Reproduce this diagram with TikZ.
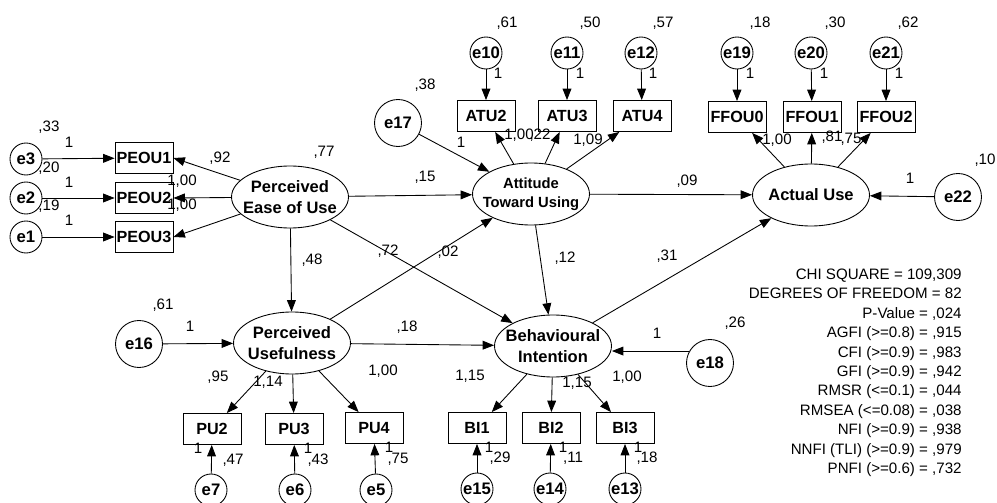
\documentclass[tikz,border=0pt]{standalone}
\usepackage{fontspec}
\setmainfont{Liberation Sans}
\usetikzlibrary{arrows.meta,shapes.geometric}

\tikzset{
	obs/.style={draw,line width=0.5pt,minimum width=1.16cm,minimum height=0.62cm,inner sep=0pt,font=\fontsize{9.2}{11}\selectfont\bfseries},
	lat/.style={draw,ellipse,line width=0.5pt,minimum width=2.34cm,minimum height=1.24cm,inner xsep=-10pt,inner ysep=-2pt,align=center,font=\fontsize{9.4}{12}\selectfont\bfseries},
	err/.style={draw,circle,line width=0.5pt,minimum size=0.64cm,inner sep=0pt,font=\fontsize{9.5}{11}\selectfont\bfseries},
	errbig/.style={err,minimum size=0.94cm},
	num/.style={inner sep=0pt,font=\fontsize{8.6}{10}\selectfont},
	arr/.style={-{Triangle[length=6.5pt,width=5pt]},line width=0.5pt}
}

\begin{document}
\begin{tikzpicture}[x=0.02cm,y=-0.02cm]
				\useasboundingbox (0,0) rectangle (997,503);

				% Latent variables
				\node[lat] (peou) at (290,197) {Perceived\\Ease of Use};
				\node[lat,font=\fontsize{8.4}{10.8}\selectfont\bfseries] (atu) at (531,194) {Attitude\\Toward Using};
				\node[lat] (au) at (811,195) {Actual Use};
				\node[lat] (pu) at (292,343) {Perceived\\Usefulness};
				\node[lat] (bi) at (553,346) {Behavioural\\Intention};

				% Indicators
				\node[obs] (peou1) at (144,158) {PEOU1};
				\node[obs] (peou2) at (144,198) {PEOU2};
				\node[obs] (peou3) at (144,237) {PEOU3};
				\node[obs] (atu2) at (486,116) {ATU2};
				\node[obs] (atu3) at (567,116) {ATU3};
				\node[obs] (atu4) at (642,116) {ATU4};
				\node[obs] (ffou0) at (737,117) {FFOU0};
				\node[obs] (ffou1) at (812,117) {FFOU1};
				\node[obs] (ffou2) at (886,117) {FFOU2};
				\node[obs] (pu2) at (212,429) {PU2};
				\node[obs] (pu3) at (294,429) {PU3};
				\node[obs] (pu4) at (374,428) {PU4};
				\node[obs] (bi1) at (477,428) {BI1};
				\node[obs] (bi2) at (551,428) {BI2};
				\node[obs] (bi3) at (625,428) {BI3};

				% Error terms
				\node[err] (e3) at (26,159) {e3};
				\node[err] (e2) at (26,198) {e2};
				\node[err] (e1) at (26,237) {e1};
				\node[err] (e10) at (486,53) {e10};
				\node[err] (e11) at (567,53) {e11};
				\node[err] (e12) at (641,53) {e12};
				\node[err] (e19) at (737,53) {e19};
				\node[err] (e20) at (811,53) {e20};
				\node[err] (e21) at (886,53) {e21};
				\node[err] (e7) at (211,490) {e7};
				\node[err] (e6) at (295,490) {e6};
				\node[err] (e5) at (376,490) {e5};
				\node[err] (e15) at (477,489) {e15};
				\node[err] (e14) at (550,489) {e14};
				\node[err] (e13) at (625,489) {e13};
				\node[errbig] (e17) at (398,123) {e17};
				\node[errbig] (e22) at (958,197) {e22};
				\node[errbig] (e16) at (139,344) {e16};
				\node[errbig] (e18) at (710,363) {e18};

				% Measurement paths
				\draw[arr] (e3) -- (peou1);
				\draw[arr] (e2) -- (peou2);
				\draw[arr] (e1) -- (peou3);
				\draw[arr] (peou) -- (peou1.east);
				\draw[arr] (peou) -- (peou2.east);
				\draw[arr] (peou) -- (peou3.east);
				\draw[arr] (e10) -- (atu2);
				\draw[arr] (e11) -- (atu3);
				\draw[arr] (e12) -- (atu4);
				\draw[arr] (atu) -- (atu2);
				\draw[arr] (atu) -- (atu3);
				\draw[arr] (atu) -- (atu4);
				\draw[arr] (e19) -- (ffou0);
				\draw[arr] (e20) -- (ffou1);
				\draw[arr] (e21) -- (ffou2);
				\draw[arr] (au) -- (ffou0);
				\draw[arr] (au) -- (ffou1);
				\draw[arr] (au) -- (ffou2);
				\draw[arr] (pu) -- (pu2);
				\draw[arr] (pu) -- (pu3);
				\draw[arr] (pu) -- (pu4);
				\draw[arr] (e7) -- (pu2);
				\draw[arr] (e6) -- (pu3);
				\draw[arr] (e5) -- (pu4);
				\draw[arr] (bi) -- (bi1);
				\draw[arr] (bi) -- (bi2);
				\draw[arr] (bi) -- (bi3);
				\draw[arr] (e15) -- (bi1);
				\draw[arr] (e14) -- (bi2);
				\draw[arr] (e13) -- (bi3);

				% Structural paths
				\draw[arr] (peou) -- (atu);
				\draw[arr] (peou) -- (pu);
				\draw[arr] (peou) -- (bi);
				\draw[arr] (pu) -- (atu);
				\draw[arr] (pu) -- (bi);
				\draw[arr] (atu) -- (bi);
				\draw[arr] (atu) -- (au);
				\draw[arr] (bi) -- (au);
				\draw[arr] (e17) -- (atu);
				\draw[arr] (e16) -- (pu);
				\draw[arr] (e22) -- (au);
				\draw[arr] (e18.150) -- (e18.150 -| bi.east);

				% Estimates, left
				\node[num] (ve3) at (49,127) {,33};
				\node[num] (we3) at (69,142) {1};
				\node[num] (ve2) at (49,168) {,20};
				\node[num] (we2) at (69,182) {1};
				\node[num] (ve1) at (49,206) {,19};
				\node[num] (we1) at (69,220) {1};
				\node[num] (wpeou1) at (220,158) {,92};
				\node[num] (vpeou) at (324,152) {,77};
				\node[num] (wpeou2) at (182,181) {1,00};
				\node[num] (wpeou3) at (182,205) {1,00};

				% Estimates, top
				\node[num] (ve17) at (425,85) {,38};
				\node[num] (we17) at (461,142) {1};
				\node[num] (watu2) at (519,135) {1,00};
				\node[num] (vatu) at (540,135) {,22};
				\node[num] (watu4) at (588,140) {1,09};
				\node[num] (ve10) at (507,23) {,61};
				\node[num] (we10) at (498,73) {1};
				\node[num] (ve11) at (590,23) {,50};
				\node[num] (we11) at (580,73) {1};
				\node[num] (ve12) at (663,23) {,57};
				\node[num] (we12) at (653,73) {1};
				\node[num] (ve19) at (760,23) {,18};
				\node[num] (we19) at (750,73) {1};
				\node[num] (ve20) at (835,23) {,30};
				\node[num] (we20) at (824,73) {1};
				\node[num] (ve21) at (908,23) {,62};
				\node[num] (we21) at (899,73) {1};
				\node[num] (wffou0) at (777,140) {1,00};
				\node[num] (wffou1) at (832,137) {,81};
				\node[num] (wffou2) at (851,139) {,75};
				\node[num] (ve22) at (985,160) {,10};
				\node[num] (we22) at (910,178) {1};
				\node[num] (wpa) at (425,177) {,15};
				\node[num] (waa) at (687,181) {,09};

				% Estimates, middle
				\node[num] (wpp) at (312,260) {,48};
				\node[num] (wpb) at (388,251) {,72};
				\node[num] (wua) at (448,252) {,02};
				\node[num] (wab) at (565,258) {,12};
				\node[num] (wba) at (667,256) {,31};
				\node[num] (ve16) at (163,305) {,61};
				\node[num] (we16) at (190,326) {1};
				\node[num] (wub) at (407,327) {,18};
				\node[num] (we18) at (657,333) {1};
				\node[num] (ve18) at (735,323) {,26};

				% Estimates, bottom
				\node[num] (wpu2) at (218,377) {,95};
				\node[num] (wpu3) at (268,382) {1,14};
				\node[num] (wpu4) at (383,371) {1,00};
				\node[num] (wbi1) at (470,376) {1,15};
				\node[num] (wbi2) at (577,383) {1,15};
				\node[num] (wbi3) at (627,377) {1,00};
				\node[num] (we7) at (198,448) {1};
				\node[num] (ve7) at (233,460) {,47};
				\node[num] (we6) at (308,448) {1};
				\node[num] (ve6) at (318,460) {,43};
				\node[num] (we5) at (389,447) {1};
				\node[num] (ve5) at (398,459) {,75};
				\node[num] (we15) at (489,447) {1};
				\node[num] (ve15) at (500,458) {,29};
				\node[num] (we14) at (563,447) {1};
				\node[num] (ve14) at (573,458) {,11};
				\node[num] (we13) at (638,447) {1};
				\node[num] (ve13) at (647,458) {,18};

				% Fit indices
				\foreach \t [count=\i] in {{CHI SQUARE = 109,309},{DEGREES OF FREEDOM = 82},{P-Value = ,024},{AGFI (>=0.8) = ,915},{CFI (>=0.9) = ,983},{GFI (>=0.9) = ,942},{RMSR (<=0.1) = ,044},{RMSEA (<=0.08) = ,038},{NFI (>=0.9) = ,938},{NNFI (TLI) (>=0.9) = ,979},{PNFI (>=0.6) = ,732}}
					\node[num,anchor=base east] (fit\i) at (962,{260+19.4*\i}) {\t};
			\end{tikzpicture}
\end{document}
